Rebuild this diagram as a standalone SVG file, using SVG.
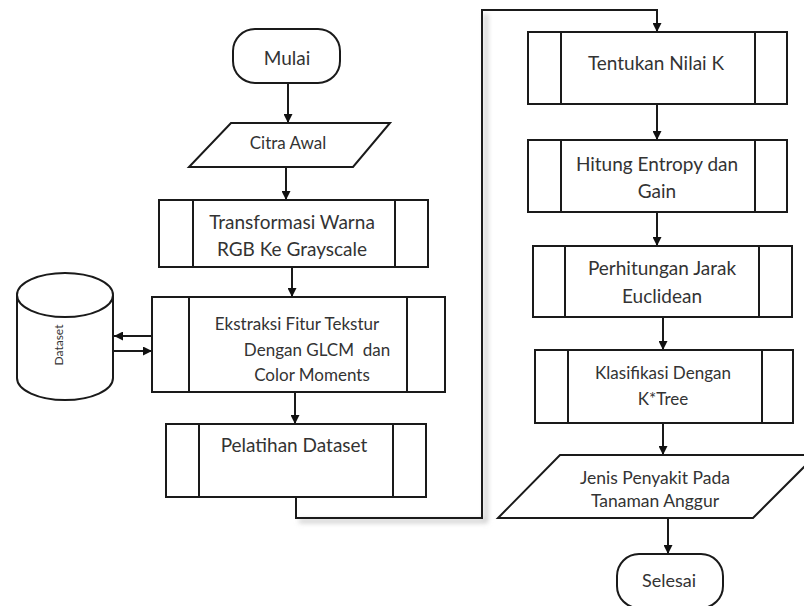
<svg xmlns="http://www.w3.org/2000/svg" width="804" height="606" viewBox="0 0 804 606">
<defs>
<marker id="ah2" viewBox="0 0 10 10" refX="10" refY="5" markerWidth="9" markerHeight="9" orient="auto" markerUnits="userSpaceOnUse">
<path d="M0,0 L10,5 L0,10 z" fill="#111"/>
</marker>
<filter id="blur" x="-10%" y="-50%" width="120%" height="200%"><feGaussianBlur stdDeviation="2.5"/></filter>
</defs>
<style>
.s{fill:#fff;stroke:#1a1a1a;stroke-width:2}
.l{fill:none;stroke:#1a1a1a;stroke-width:2}
.c{fill:none;stroke:#1a1a1a;stroke-width:2}
.t{font-family:Lato,"Liberation Sans",sans-serif;fill:#333;text-anchor:middle;dominant-baseline:central}
</style>
<rect width="804" height="606" fill="#fff"/>
<g id="connectors">
<path d="M299,521 H486 V14" fill="none" stroke="#bbb" stroke-width="3" filter="url(#blur)"/>
<line class="c" x1="288" y1="83" x2="288" y2="123" marker-end="url(#ah2)"/>
<line class="c" x1="286" y1="167" x2="286" y2="200" marker-end="url(#ah2)"/>
<line class="c" x1="292" y1="267" x2="292" y2="297" marker-end="url(#ah2)"/>
<line class="c" x1="152" y1="336" x2="114" y2="336" marker-end="url(#ah2)"/>
<line class="c" x1="114" y1="351" x2="152" y2="351" marker-end="url(#ah2)"/>
<line class="c" x1="295" y1="392" x2="295" y2="424" marker-end="url(#ah2)"/>
<path class="c" d="M296,497 V518 H482 V10 H657 V32" marker-end="url(#ah2)"/>
<line class="c" x1="657" y1="104" x2="657" y2="140" marker-end="url(#ah2)"/>
<line class="c" x1="657" y1="212" x2="657" y2="246" marker-end="url(#ah2)"/>
<line class="c" x1="663" y1="317" x2="663" y2="350" marker-end="url(#ah2)"/>
<line class="c" x1="663" y1="423" x2="663" y2="455" marker-end="url(#ah2)"/>
<line class="c" x1="668" y1="518" x2="668" y2="554" marker-end="url(#ah2)"/>
</g>
<g id="mulai">
<rect class="s" x="233" y="29" width="107" height="54" rx="22"/>
<text class="t" x="287" y="57" font-size="19">Mulai</text>
</g>
<g id="citra">
<polygon class="s" points="231,123 390,123 353,167 189,167"/>
<text class="t" x="288" y="142" font-size="17">Citra Awal</text>
</g>
<g id="transformasi">
<rect class="s" x="159" y="200" width="269" height="67"/>
<line class="l" x1="193" y1="200" x2="193" y2="267"/>
<line class="l" x1="395" y1="200" x2="395" y2="267"/>
<text class="t" x="292" y="221" font-size="19">Transformasi Warna</text>
<text class="t" x="292" y="248" font-size="19">RGB Ke Grayscale</text>
</g>
<g id="dataset">
<path class="s" d="M17,295 V378 A48,22 0 0 0 113,378 V295"/>
<ellipse class="s" cx="65" cy="295" rx="48" ry="22"/>
<text class="t" x="0" y="0" font-size="12" transform="translate(58,345) rotate(-90)">Dataset</text>
</g>
<g id="ekstraksi">
<rect class="s" x="152" y="297" width="293" height="95"/>
<line class="l" x1="189" y1="297" x2="189" y2="392"/>
<line class="l" x1="407" y1="297" x2="407" y2="392"/>
<text class="t" x="297" y="323" font-size="17">Ekstraksi Fitur Tekstur</text>
<text class="t" x="317" y="349" font-size="17" xml:space="preserve">Dengan GLCM  dan</text>
<text class="t" x="312" y="374" font-size="17">Color Moments</text>
</g>
<g id="pelatihan">
<rect class="s" x="166" y="424" width="260" height="73"/>
<line class="l" x1="199" y1="424" x2="199" y2="497"/>
<line class="l" x1="393" y1="424" x2="393" y2="497"/>
<text class="t" x="294" y="444" font-size="19">Pelatihan Dataset</text>
</g>
<g id="tentukan">
<rect class="s" x="528" y="32" width="259" height="72"/>
<line class="l" x1="561" y1="32" x2="561" y2="104"/>
<line class="l" x1="755" y1="32" x2="755" y2="104"/>
<text class="t" x="656" y="62" font-size="19">Tentukan Nilai K</text>
</g>
<g id="hitung">
<rect class="s" x="528" y="140" width="259" height="72"/>
<line class="l" x1="561" y1="140" x2="561" y2="212"/>
<line class="l" x1="755" y1="140" x2="755" y2="212"/>
<text class="t" x="657" y="163" font-size="19">Hitung Entropy dan</text>
<text class="t" x="657" y="190" font-size="19">Gain</text>
</g>
<g id="perhitungan">
<rect class="s" x="533" y="246" width="259" height="71"/>
<line class="l" x1="565" y1="246" x2="565" y2="317"/>
<line class="l" x1="759" y1="246" x2="759" y2="317"/>
<text class="t" x="662" y="267" font-size="19">Perhitungan Jarak</text>
<text class="t" x="662" y="295" font-size="19">Euclidean</text>
</g>
<g id="klasifikasi">
<rect class="s" x="535" y="350" width="258" height="73"/>
<line class="l" x1="568" y1="350" x2="568" y2="423"/>
<line class="l" x1="762" y1="350" x2="762" y2="423"/>
<text class="t" x="663" y="372" font-size="17">Klasifikasi Dengan</text>
<text class="t" x="663" y="398" font-size="17">K*Tree</text>
</g>
<g id="jenis">
<polygon class="s" points="560,455 816,455 753,518 498,518"/>
<text class="t" x="655" y="477" font-size="17.5">Jenis Penyakit Pada</text>
<text class="t" x="655" y="500" font-size="17.5">Tanaman Anggur</text>
</g>
<g id="selesai">
<rect class="s" x="617" y="554" width="106" height="54" rx="22"/>
<text class="t" x="669" y="580" font-size="18">Selesai</text>
</g>
</svg>
